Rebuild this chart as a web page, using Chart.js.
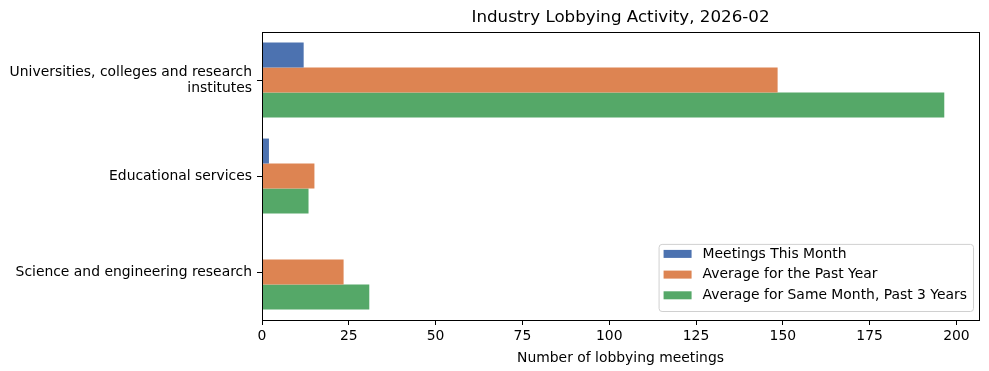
<!DOCTYPE html>
<html>
<head>
<meta charset="utf-8">
<script src="https://cdn.jsdelivr.net/npm/chart.js@4"></script>
<style>
  html, body { margin: 0; padding: 0; background: #fff; }
  #wrap { width: 989px; height: 371px; }
</style>
</head>
<body>
<div id="wrap"><canvas id="myChart"></canvas></div>
<script>
var categories = [
  ["Universities, colleges and research", "institutes"],
  "Educational services",
  "Science and engineering research"
];
var thisMonth = [12, 2, 0];
var pastYear = [148.5, 15.1, 23.5];
var sameMonth3y = [196.5, 13.4, 30.9];
var xTicks = [0, 25, 50, 75, 100, 125, 150, 175, 200];
var chartTitle = 'Industry Lobbying Activity, 2026-02';

var FONT = "'DejaVu Sans', sans-serif";
Chart.defaults.font.family = FONT;
Chart.defaults.color = "#000";

// title centred over the plot, box round the plot, legend inside bottom right
const frameAndLegend = {
  id: 'frameAndLegend',
  afterDraw(chart) {
    const ctx = chart.ctx;
    const a = chart.chartArea;
    ctx.save();
    ctx.strokeStyle = '#000';
    ctx.lineWidth = 1;
    ctx.strokeRect(Math.round(a.left) + 0.5, Math.round(a.top) + 0.5,
      Math.round(a.right - a.left), Math.round(a.bottom - a.top));

    ctx.fillStyle = '#000';
    ctx.font = '16.7px ' + FONT;
    ctx.textAlign = 'center';
    ctx.textBaseline = 'middle';
    ctx.fillText(chartTitle, (a.left + a.right) / 2, 18);

    const sets = chart.data.datasets;
    ctx.font = '13.9px ' + FONT;
    let maxW = 0;
    sets.forEach(s => { maxW = Math.max(maxW, ctx.measureText(s.label).width); });
    const rowH = 20.7;
    const w = 5 + 28 + 11 + maxW + 6;
    const h = sets.length * rowH + 5;
    const x = a.right - 6 - w;
    const y = a.bottom - 9 - h;
    ctx.beginPath();
    ctx.roundRect(x + 0.5, y + 0.5, w, h, 3);
    ctx.fillStyle = 'rgba(255,255,255,0.8)';
    ctx.fill();
    ctx.strokeStyle = '#d0d0d0';
    ctx.stroke();
    sets.forEach((s, i) => {
      const cy = y + 10 + i * rowH;
      ctx.fillStyle = s.backgroundColor;
      ctx.fillRect(x + 5, cy - 4, 28, 8);
      ctx.fillStyle = '#000';
      ctx.textBaseline = 'middle';
      ctx.textAlign = 'left';
      ctx.fillText(s.label, x + 5 + 28 + 11, cy);
    });
    ctx.restore();
  }
};

new Chart(document.getElementById("myChart"), {
  type: 'bar',
  data: {
    labels: categories,
    datasets: [
      { label: 'Meetings This Month', data: thisMonth, backgroundColor: '#4c72b0' },
      { label: 'Average for the Past Year', data: pastYear, backgroundColor: '#dd8452' },
      { label: 'Average for Same Month, Past 3 Years', data: sameMonth3y, backgroundColor: '#55a868' }
    ]
  },
  options: {
    indexAxis: 'y',
    responsive: true,
    maintainAspectRatio: false,
    animation: false,
    layout: { padding: { left: 0, right: 10, top: 32, bottom: 4 } },
    datasets: {
      bar: { categoryPercentage: 0.78, barPercentage: 1.0, borderWidth: 0 }
    },
    plugins: {
      legend: { display: false },
      tooltip: { enabled: false },
      title: { display: false }
    },
    scales: {
      x: {
        type: 'linear',
        min: 0,
        max: 206.5,
        afterBuildTicks: s => { s.ticks = xTicks.map(v => ({ value: v })); },
        afterFit: s => { s.height = 47; },
        grid: { drawOnChartArea: false, tickLength: 5, color: '#000', tickColor: '#000' },
        border: { display: false },
        ticks: { font: { size: 13.9 }, padding: 3, maxRotation: 0, color: '#000' },
        title: { display: true, text: 'Number of lobbying meetings', font: { size: 13.9 }, color: '#000', padding: { top: 2, bottom: 0 } }
      },
      y: {
        afterFit: s => { s.width = 262; },
        grid: { drawOnChartArea: false, tickLength: 5, offset: false, color: '#000', tickColor: '#000' },
        border: { display: false },
        ticks: { font: { size: 13.9, lineHeight: 1.15 }, padding: 5, color: '#000' }
      }
    }
  },
  plugins: [frameAndLegend]
});
</script>
</body>
</html>
